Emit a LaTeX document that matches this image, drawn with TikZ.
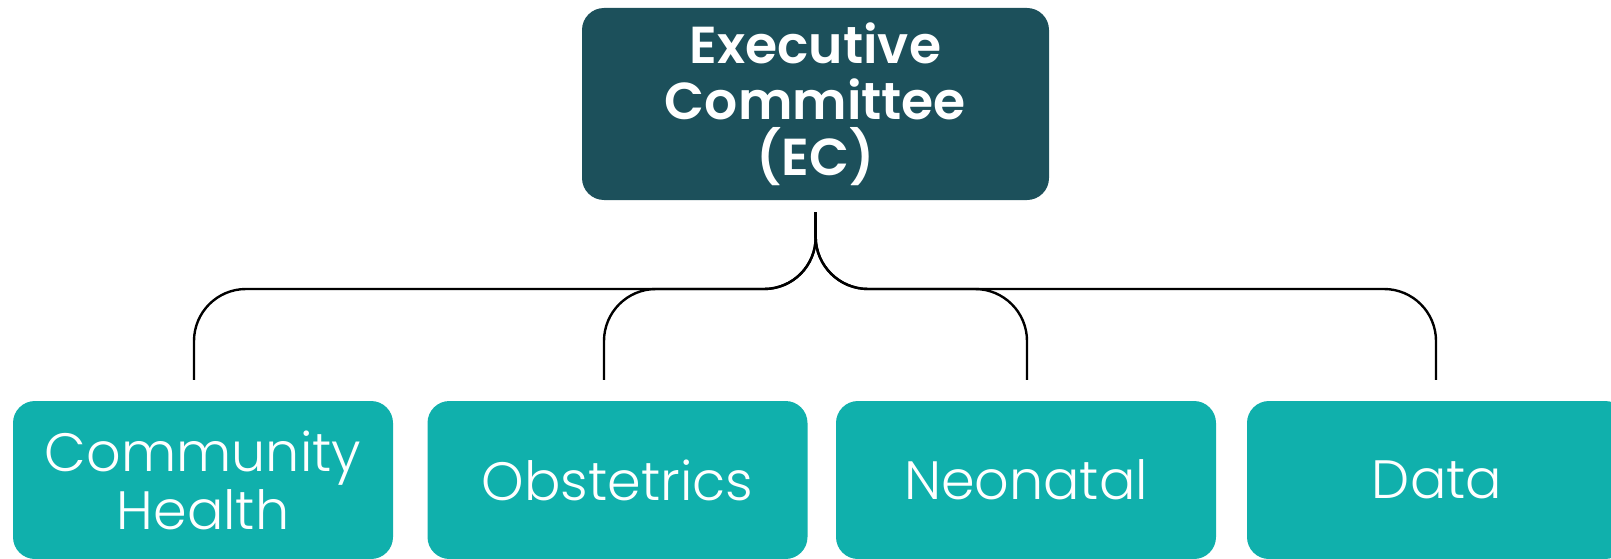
\documentclass[tikz,border=0pt]{standalone}
\usepackage{fontspec}
\setmainfont{Poppins}
\newfontfamily\lightfont{Poppins Light}
\newfontfamily\semifont{Poppins SemiBold}
\definecolor{ecteal}{HTML}{1C505B}
\definecolor{subteal}{HTML}{10B0AC}

\begin{document}
\begin{tikzpicture}[
    x=1pt, y=-1pt,
    ecbox/.style={rounded corners=22pt, fill=ecteal, text=white,
      minimum width=467pt, minimum height=192pt, inner sep=0pt,
      align=center, font=\semifont\fontsize{52}{56}\selectfont},
    subbox/.style={rounded corners=22pt, fill=subteal, text=white,
      minimum width=380pt, minimum height=158pt, inner sep=0pt,
      align=center, font=\lightfont\fontsize{54}{58}\selectfont},
    link/.style={black, line width=2.4pt, rounded corners=52pt},
  line join=round]

  \useasboundingbox (0,0) rectangle (1611,559);

  % executive committee
  \node [ecbox] (ec) at (815.5,104) {Executive\\Committee\\(EC)};
  \coordinate (ectop) at ([yshift=-12pt]ec.south);
  \coordinate (bus) at (816,289);

  % working groups
  \foreach \name/\x/\dx/\txt in {cmh/203/-9/{Community\\Health},
    obs/617.5/-13.5/Obstetrics, neo/1026/1/Neonatal, dat/1437/-1/Data}{
    \node [subbox] (\name) at (\x,480) {\txt};

    % branch to the group
    \draw [link] (ectop) -- (bus) -| ([xshift=\dx pt, yshift=21pt]\name.north);
  }
\end{tikzpicture}
\end{document}
